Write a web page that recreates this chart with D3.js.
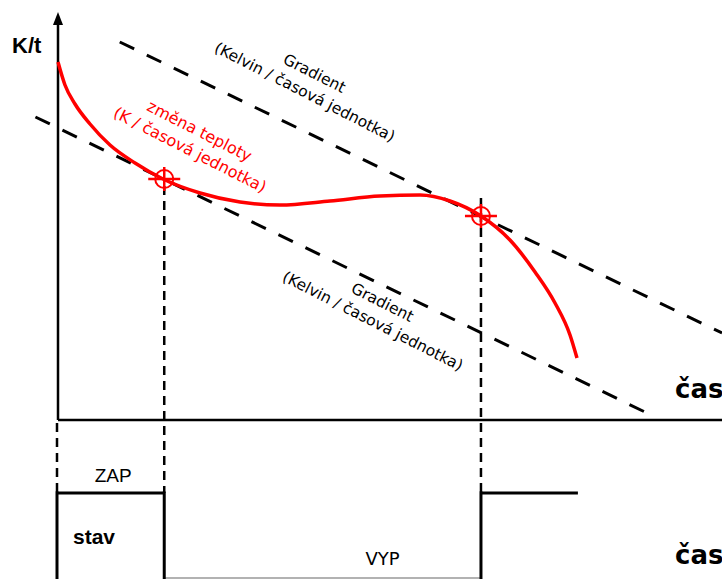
<!DOCTYPE html>
<html><head><meta charset="utf-8">
<script src="https://cdn.jsdelivr.net/npm/d3@7"></script>
<style>html,body{margin:0;padding:0;background:#fff;overflow:hidden}</style>
</head><body>
<svg id="c" width="722" height="579"></svg>
<script>
// ---- data ----
const curveTimes = [0,1.05,2.56,4.82,7.83,11.6,15.81,21.39,27.41,33.43,40.96,48.49,54.52,59.04,63.7,68.07,71.84,74.85,77.11,78.16];
const curveValues = [89.5,83.75,79,74,68.75,64.25,60.25,56.75,54.5,53.75,54.75,56,56.25,54.75,51,45,37,29.25,21.25,15.5];
const gradUpperT = [9.3, 100];
const gradUpperV = [94.5, 21.75];
const gradLowerT = [-3.4, 88.7];
const gradLowerV = [75.75, 1.75];
const markerTimes = [16, 63.7];
const markerValues = [60.25, 51];
const dashTopValues = [58.5, 55.5];
const stateTimes = [0, 16, 63.7, 78.3];
const stateValues = [1, 0, 1];
const stateLabels = ["ZAP", "VYP"];
const curveLabel = ["změna teploty", "(K / časová jednotka)"];
const gradLabel = ["Gradient", "(Kelvin / časová jednotka)"];
const yAxisTitle = "K/t";
const xAxisTitle = "čas";
const stateTitle = "stav";

const svg = d3.select("#c");
const x = d3.scaleLinear().domain([0,100]).range([58,722]);
const y = d3.scaleLinear().domain([0,100]).range([420,20]);
const ys = d3.scaleLinear().domain([0,1]).range([578,493]);
const RED = "#ff0000";
const GOTHIC = "'DejaVu Sans', sans-serif";

// axes
svg.append("line").attr("x1",x(0)).attr("x2",722).attr("y1",y(0)).attr("y2",y(0))
  .attr("stroke","#000").attr("stroke-width",2.5);
svg.append("line").attr("x1",x(0)).attr("x2",x(0)).attr("y1",y(0)).attr("y2",22)
  .attr("stroke","#000").attr("stroke-width",2.5);
svg.append("path").attr("d",`M${x(0)},12 L${x(0)-5},25 L${x(0)+5},25 Z`).attr("fill","#000");

svg.append("text").attr("x",12).attr("y",53).text(yAxisTitle)
  .attr("font-family","'Liberation Sans', Arial, sans-serif").attr("font-weight","bold").attr("font-size",22);
svg.append("text").attr("x",675).attr("y",398).text(xAxisTitle)
  .attr("font-family",GOTHIC).attr("font-weight","bold").attr("font-size",26);
svg.append("text").attr("x",675).attr("y",564).text(xAxisTitle)
  .attr("font-family",GOTHIC).attr("font-weight","bold").attr("font-size",26);

// gradient dashed lines
function gline(ts, vs){
  svg.append("line").attr("x1",x(ts[0])).attr("y1",y(vs[0])).attr("x2",x(ts[1])).attr("y2",y(vs[1]))
    .attr("stroke","#000").attr("stroke-width",3).attr("stroke-dasharray","16,14");
}
gline(gradUpperT, gradUpperV);
gline(gradLowerT, gradLowerV);

// vertical dashed lines
markerTimes.forEach((t,i)=>{
  svg.append("line").attr("x1",x(t)).attr("x2",x(t)).attr("y1",y(dashTopValues[i])).attr("y2",ys(1))
    .attr("stroke","#000").attr("stroke-width",2.5).attr("stroke-dasharray","9,6");
});
svg.append("line").attr("x1",x(0)-1).attr("x2",x(0)-1).attr("y1",y(0)+3).attr("y2",ys(1))
  .attr("stroke","#000").attr("stroke-width",2.5).attr("stroke-dasharray","9,6");

// red curve
const line = d3.line().x((d,i)=>x(curveTimes[i])).y((d,i)=>y(curveValues[i])).curve(d3.curveMonotoneX);
svg.append("path").attr("d",line(curveTimes)).attr("fill","none").attr("stroke",RED).attr("stroke-width",3.5);

// markers
markerTimes.forEach((t,i)=>{
  const cx = x(t), cy = y(markerValues[i]);
  const g = svg.append("g").attr("stroke",RED).attr("fill","none");
  g.append("circle").attr("cx",cx).attr("cy",cy).attr("r",9).attr("stroke-width",2);
  g.append("line").attr("x1",cx-16).attr("x2",cx+16).attr("y1",cy).attr("y2",cy).attr("stroke-width",2.5);
  g.append("line").attr("x1",cx).attr("x2",cx).attr("y1",cy-12).attr("y2",cy+12).attr("stroke-width",2.5);
});

// rotated labels
function label(lines, cx, cy, ang, color, size){
  const g = svg.append("g").attr("transform",`translate(${cx},${cy}) rotate(${ang})`);
  lines.forEach((s,i)=>{
    g.append("text").attr("x",0).attr("y",i*21).attr("text-anchor","middle").text(s)
      .attr("fill",color).attr("font-family",GOTHIC).attr("font-size",size);
  });
}
label(curveLabel, 197, 136, 27, RED, 16);
label(gradLabel, 312, 78, 27, "#000", 15.5);
label(gradLabel, 380, 307, 27, "#000", 15.5);

// state step
for(let i=0;i<stateValues.length;i++){
  const v = stateValues[i];
  svg.append("line").attr("x1",x(stateTimes[i])).attr("x2",x(stateTimes[i+1]))
    .attr("y1",ys(v)).attr("y2",ys(v))
    .attr("stroke", v ? "#000" : "#999").attr("stroke-width", v ? 3 : 1.5);
}
for(let i=0;i<stateTimes.length-1;i++){
  svg.append("line").attr("x1",x(stateTimes[i])-(i===0?1:0)).attr("x2",x(stateTimes[i])-(i===0?1:0))
    .attr("y1",ys(1)-1.5).attr("y2",579).attr("stroke","#000").attr("stroke-width",3);
}
svg.append("text").attr("x",(x(stateTimes[0])+x(stateTimes[1]))/2+2).attr("y",482).attr("text-anchor","middle")
  .text(stateLabels[0]).attr("font-family","'Liberation Sans', Arial, sans-serif").attr("font-size",19);
svg.append("text").attr("x",(x(stateTimes[1])+x(stateTimes[2]))/2+60).attr("y",565).attr("text-anchor","middle")
  .text(stateLabels[1]).attr("font-family",GOTHIC).attr("font-size",18);
svg.append("text").attr("x",73).attr("y",544).text(stateTitle)
  .attr("font-family","'Liberation Sans', Arial, sans-serif").attr("font-weight","bold").attr("font-size",21);
</script>
</body></html>
